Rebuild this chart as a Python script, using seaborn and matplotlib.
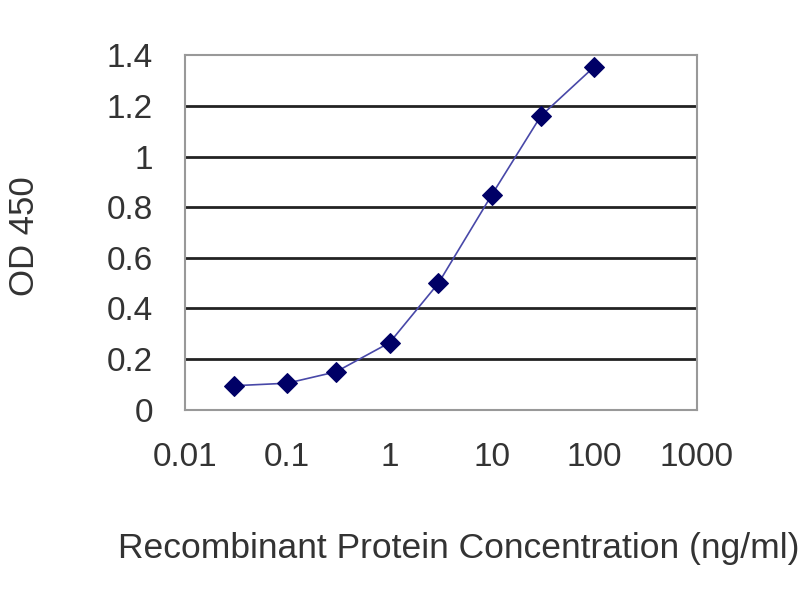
import matplotlib
matplotlib.use("Agg")
import matplotlib.pyplot as plt
import seaborn as sns
import pandas as pd

# Values
concentration = [0.03, 0.1, 0.3, 1, 3, 10, 30, 100]
od450 = [0.095, 0.105, 0.15, 0.265, 0.50, 0.85, 1.16, 1.355]
x_ticks = [0.01, 0.1, 1, 10, 100, 1000]
x_tick_labels = ["0.01", "0.1", "1", "10", "100", "1000"]
y_ticks = [0, 0.2, 0.4, 0.6, 0.8, 1, 1.2, 1.4]
y_tick_labels = ["0", "0.2", "0.4", "0.6", "0.8", "1", "1.2", "1.4"]

df = pd.DataFrame({"conc": concentration, "od": od450})

sns.set_style("white")
plt.rcParams["font.family"] = ["Liberation Sans", "DejaVu Sans"]

fig = plt.figure(figsize=(8, 6), dpi=100)
ax = fig.add_axes([0.231, 0.317, 0.640, 0.591])

# Horizontal grid lines
for y in y_ticks[1:-1]:
    ax.axhline(y, color="#222222", lw=2, zorder=1)

sns.lineplot(x="conc", y="od", data=df, ax=ax, color="#4848a8", lw=1.2,
             marker="D", markersize=10, markerfacecolor="#000066",
             markeredgecolor="#000066", zorder=3)

ax.set_xscale("log")
ax.set_xlim(0.01, 1000)
ax.set_ylim(0, 1.4)
ax.set_xticks(x_ticks)
ax.set_xticklabels(x_tick_labels)
ax.set_yticks(y_ticks)
ax.set_yticklabels(y_tick_labels)
ax.minorticks_off()

for side in ["left", "bottom", "right", "top"]:
    ax.spines[side].set_visible(True)
    ax.spines[side].set_color("#999999")
    ax.spines[side].set_linewidth(1.5)

ax.tick_params(axis="x", direction="out", length=7, width=1.5, color="#777777",
               labelsize=24, labelcolor="#333333", pad=16)
ax.tick_params(axis="y", direction="out", length=5, width=1.5, color="#777777",
               labelsize=24, labelcolor="#333333", pad=18)

ax.set_xlabel("Recombinant Protein Concentration (ng/ml)", fontsize=25.5,
              color="#333333")
ax.set_ylabel("OD 450", fontsize=25, color="#333333")
ax.xaxis.set_label_coords(0.535, -0.344)
ax.yaxis.set_label_coords(-0.28, 0.49)

fig.savefig("out.png", dpi=100)
